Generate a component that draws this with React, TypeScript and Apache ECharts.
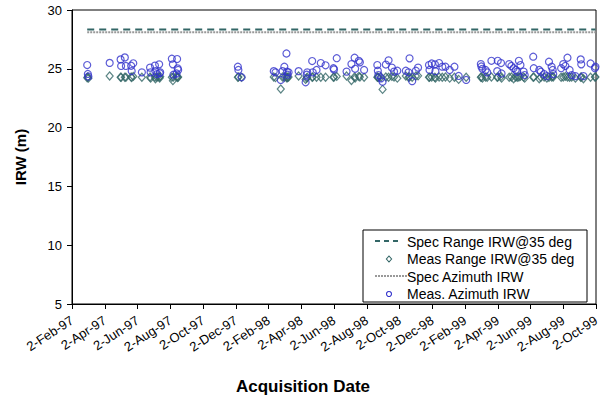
import React, { useEffect, useRef } from 'react';
import * as echarts from 'echarts';

const tickLabels = [
  '2-Feb-97', '2-Apr-97', '2-Jun-97', '2-Aug-97', '2-Oct-97', '2-Dec-97',
  '2-Feb-98', '2-Apr-98', '2-Jun-98', '2-Aug-98', '2-Oct-98', '2-Dec-98',
  '2-Feb-99', '2-Apr-99', '2-Jun-99', '2-Aug-99', '2-Oct-99',
];

const acqDates = [
  '1997-02-28', '1997-03-01', '1997-03-02', '1997-04-11', '1997-05-01', '1997-05-02',
  '1997-05-09', '1997-05-11', '1997-05-21', '1997-05-22', '1997-05-25', '1997-06-10',
  '1997-06-25', '1997-06-26', '1997-07-04', '1997-07-05', '1997-07-08', '1997-07-12',
  '1997-07-13', '1997-07-14', '1997-08-05', '1997-08-07', '1997-08-08', '1997-08-14',
  '1997-08-15', '1997-08-16', '1997-08-17', '1997-12-06', '1997-12-07', '1997-12-13',
  '1998-02-11', '1998-02-14', '1998-02-23', '1998-02-26', '1998-03-01', '1998-03-05',
  '1998-03-06', '1998-03-07', '1998-03-09', '1998-03-28', '1998-04-10', '1998-04-12',
  '1998-04-13', '1998-04-22', '1998-04-23', '1998-04-30', '1998-05-08', '1998-05-17',
  '1998-06-01', '1998-06-02', '1998-06-07', '1998-06-25', '1998-07-04', '1998-07-10',
  '1998-07-11', '1998-07-18', '1998-07-20', '1998-07-28', '1998-08-22', '1998-08-23',
  '1998-08-24', '1998-08-29', '1998-09-01', '1998-09-07', '1998-09-12', '1998-09-18',
  '1998-09-22', '1998-09-28', '1998-10-14', '1998-10-19', '1998-10-21', '1998-10-26',
  '1998-11-02', '1998-11-06', '1998-11-26', '1998-11-27', '1998-12-01', '1998-12-07',
  '1998-12-08', '1998-12-15', '1998-12-21', '1998-12-27', '1999-01-04', '1999-01-13',
  '1999-01-21', '1999-02-04', '1999-03-01', '1999-03-02', '1999-03-04', '1999-03-10',
  '1999-03-13', '1999-03-21', '1999-04-01', '1999-04-02', '1999-04-08', '1999-04-09',
  '1999-04-23', '1999-04-27', '1999-05-01', '1999-05-05', '1999-05-08', '1999-05-11',
  '1999-05-14', '1999-05-20', '1999-05-22', '1999-06-07', '1999-06-08', '1999-06-18',
  '1999-06-21', '1999-06-27', '1999-07-02', '1999-07-06', '1999-07-11', '1999-07-13',
  '1999-07-14', '1999-07-29', '1999-08-02', '1999-08-06', '1999-08-10', '1999-08-14',
  '1999-08-18', '1999-08-25', '1999-09-04', '1999-09-05', '1999-09-09', '1999-09-22',
  '1999-09-30', '1999-10-01',
];

const measAzimuthIRW = [
  25.32, 24.56, 24.35, 25.5, 25.8, 25.24,
  25.97, 25.24, 25.26, 24.81, 25.47, 24.7,
  25.1, 24.7, 25.27, 24.8, 24.55, 25.38,
  24.62, 24.7, 25.86, 25.38, 24.5, 24.6,
  25.83, 25.04, 24.9, 25.18, 24.9, 24.28,
  24.8, 24.7, 24.05, 24.8, 25.18, 26.3,
  24.75, 24.5, 24.7, 24.8, 23.85, 24.5,
  24.7, 25.66, 24.7, 24.9, 25.49, 25.3,
  25.05, 24.95, 25.9, 24.76, 25.4, 25.94,
  25.0, 25.68, 25.55, 24.9, 25.32, 24.84,
  24.47, 24.19, 23.9, 25.36, 25.72, 25.1,
  24.76, 24.84, 24.84, 24.7, 25.89, 23.95,
  24.84, 25.1, 25.32, 24.9, 25.45, 25.38,
  24.8, 25.49, 25.18, 25.18, 24.9, 25.18,
  24.39, 24.05, 25.4, 25.2, 25.0, 24.9,
  24.7, 25.68, 24.8, 25.68, 25.49, 24.6,
  25.4, 25.24, 25.05, 24.9, 24.75, 25.68,
  25.32, 24.76, 24.47, 26.03, 25.05, 24.9,
  24.75, 24.55, 24.38, 25.6, 25.18, 24.9,
  24.55, 25.05, 25.4, 25.24, 25.94, 24.9,
  24.47, 24.38, 25.8, 25.38, 24.38, 25.45,
  25.05, 25.18,
];

const measRangeIRW = [
  24.24, 24.3, 24.2, 24.39, 24.28, 24.28,
  24.28, 24.28, 24.3, 24.25, 24.35, 24.28,
  24.3, 24.2, 24.3, 24.15, 24.3, 24.3,
  24.22, 24.35, 24.28, 23.99, 24.3, 24.35,
  24.3, 24.25, 24.3, 24.28, 24.3, 24.28,
  24.3, 24.25, 23.28, 24.3, 24.28, 24.3,
  24.2, 24.28, 24.3, 24.39, 24.1, 24.2,
  24.28, 24.28, 24.3, 24.28, 24.28, 24.28,
  24.28, 24.3, 24.35, 24.39, 24.0, 24.3,
  24.2, 24.35, 24.3, 24.28, 24.28, 24.3,
  24.25, 24.3, 23.25, 24.3, 24.28, 24.35,
  24.3, 24.2, 24.39, 24.28, 24.3, 24.28,
  24.39, 24.4, 24.28, 24.28, 24.3, 24.28,
  24.2, 24.3, 24.28, 24.3, 24.2, 24.28,
  24.1, 24.28, 24.28, 24.3, 24.2, 24.3,
  24.28, 24.3, 24.28, 24.3, 24.35, 24.2,
  24.28, 24.3, 24.15, 24.3, 24.28, 24.3,
  24.35, 24.3, 24.2, 24.28, 24.3, 24.15,
  24.28, 24.3, 24.2, 24.28, 24.3, 24.35,
  24.3, 24.28, 24.3, 24.35, 24.3, 24.28,
  24.3, 24.2, 24.28, 24.3, 24.15, 24.28,
  24.3, 24.3,
];

const specRangeIRW = 28.35;
const specAzimuthIRW = 28.1;

const legendNames = ['Spec Range IRW@35 deg', 'Meas Range IRW@35 deg', 'Spec Azimuth IRW', 'Meas. Azimuth IRW'];

const FONT = 'Liberation Sans, Arial, sans-serif';
const TEAL = '#336666';
const BLUE = '#3333cc';
const GRAY = '#999999';

function monthIndex(d: string): number {
  const [y, m, day] = d.split('-').map(Number);
  const dim = new Date(y, m, 0).getDate();
  return (y - 1997) * 12 + (m - 2) + (day - 2) / dim;
}

export default function App() {
  const ref = useRef<HTMLDivElement>(null);
  useEffect(() => {
    if (!ref.current) return;
    const chart = echarts.init(ref.current, undefined, { renderer: 'svg' });
    const xs = acqDates.map(monthIndex);
    const first = xs[0];
    const last = xs[xs.length - 1];

    const lgX = 363, lgY = 230, lgW = 224, lgH = 72;
    const rowY = [242, 259, 277, 294];
    const iconCx = 389;
    const textX = 407;
    const legendGraphic: any[] = [
      {
        type: 'rect', z: 100, shape: { x: lgX, y: lgY, width: lgW, height: lgH },
        style: { fill: '#fff', stroke: '#000', lineWidth: 1 },
      },
      {
        type: 'line', z: 101, shape: { x1: 375, y1: rowY[0] - 1, x2: 402, y2: rowY[0] - 1 },
        style: { stroke: TEAL, lineWidth: 2, lineDash: [5, 4] },
      },
      {
        type: 'polygon', z: 101,
        shape: { points: [[iconCx, rowY[1] - 3], [iconCx + 2.6, rowY[1]], [iconCx, rowY[1] + 3], [iconCx - 2.6, rowY[1]]] },
        style: { fill: 'none', stroke: TEAL, lineWidth: 1.1 },
      },
      {
        type: 'line', z: 101, shape: { x1: 375, y1: rowY[2] - 1, x2: 407, y2: rowY[2] - 1 },
        style: { stroke: GRAY, lineWidth: 2, lineDash: [2, 1] },
      },
      {
        type: 'circle', z: 101, shape: { cx: iconCx, cy: rowY[3], r: 2.5 },
        style: { fill: 'none', stroke: BLUE, lineWidth: 1.1 },
      },
      ...legendNames.map((n, i) => ({
        type: 'text', z: 101, x: textX, y: rowY[i],
        style: { text: n, align: 'left', verticalAlign: 'middle', font: `14px ${FONT}`, fill: '#000' },
      })),
      {
        type: 'text', x: 303, y: 386,
        style: {
          text: 'Acquisition Date', align: 'center', verticalAlign: 'middle',
          font: `bold 17px ${FONT}`, fill: '#000',
        },
      },
    ];

    chart.setOption({
      animation: false,
      backgroundColor: '#fff',
      grid: {
        left: 72, right: 7, top: 10, bottom: 97,
        show: true, borderColor: '#000', borderWidth: 1, backgroundColor: 'transparent',
      },
      xAxis: {
        type: 'value', min: 0, max: 32, interval: 2,
        axisLine: { onZero: false, lineStyle: { color: '#000', width: 1 } },
        axisTick: { inside: false, length: 5, lineStyle: { color: '#000' } },
        splitLine: { show: false },
        axisLabel: {
          rotate: 33, margin: 15, fontSize: 13, fontFamily: FONT, color: '#000',
          formatter: (v: number) => tickLabels[Math.round(v / 2)] ?? '',
        },
      },
      yAxis: {
        type: 'value', min: 5, max: 30, interval: 5,
        name: 'IRW (m)', nameLocation: 'middle', nameGap: 44,
        nameTextStyle: { fontWeight: 'bold', fontSize: 15, fontFamily: FONT, color: '#000' },
        axisLine: { show: true, onZero: false, lineStyle: { color: '#000', width: 1 } },
        axisTick: { show: true, inside: false, length: 5, lineStyle: { color: '#000' } },
        splitLine: { show: false },
        axisLabel: { margin: 10, fontSize: 13, fontFamily: FONT, color: '#000' },
      },
      graphic: legendGraphic,
      series: [
        {
          name: legendNames[0], type: 'line', symbol: 'none',
          data: [[first, specRangeIRW], [last, specRangeIRW]],
          lineStyle: { color: TEAL, width: 2, type: [7, 5] },
          itemStyle: { color: TEAL },
        },
        {
          name: legendNames[1], type: 'scatter', symbol: 'diamond', symbolSize: [7, 8],
          data: xs.map((x, i) => [x, measRangeIRW[i]]),
          itemStyle: { color: 'rgba(0,0,0,0)', borderColor: TEAL, borderWidth: 1.2 },
        },
        {
          name: legendNames[2], type: 'line', symbol: 'none',
          data: [[first, specAzimuthIRW], [last, specAzimuthIRW]],
          lineStyle: { color: GRAY, width: 2, type: [2, 1] },
          itemStyle: { color: GRAY },
        },
        {
          name: legendNames[3], type: 'scatter', symbol: 'circle', symbolSize: 7,
          data: xs.map((x, i) => [x, measAzimuthIRW[i]]),
          itemStyle: { color: 'rgba(0,0,0,0)', borderColor: BLUE, borderWidth: 1.2 },
        },
      ],
    });
    return () => chart.dispose();
  }, []);
  return (
    <div
      ref={ref}
      style={{ position: 'absolute', left: 0, top: 0, width: 603, height: 401, background: '#fff' }}
    />
  );
}
